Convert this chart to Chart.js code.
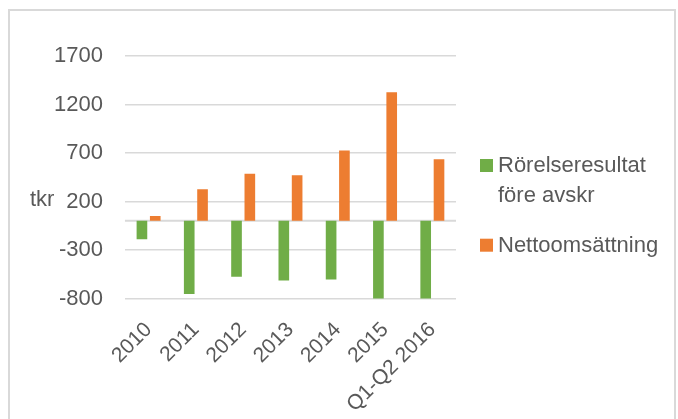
<!DOCTYPE html>
<html><head><meta charset="utf-8">
<script src="https://cdn.jsdelivr.net/npm/chart.js@4"></script>
<style>
html,body{margin:0;padding:0;background:#fff;overflow:hidden;width:678px;height:419px}
#wrap{position:absolute;left:0;top:0;width:678px;height:436px}
#frame{position:absolute;left:8px;top:9px;width:664px;height:460px;border:2px solid #d9d9d9;pointer-events:none;z-index:2}
</style></head><body>
<div id="wrap"><canvas id="c"></canvas></div>
<div id="frame"></div>
<script>
const categories = ['2010','2011','2012','2013','2014','2015','Q1-Q2 2016'];
const seriesNames = ['Rörelseresultat före avskr','Nettoomsättning'];
const rorelseresultat = [-190,-755,-575,-615,-605,-810,-810];
const nettoomsattning = [50,325,485,470,725,1325,635];
const yTicks = [-800,-300,200,700,1200,1700];
const yAxisTitle = 'tkr';

const FONT = '"Liberation Sans", Arial, sans-serif';
const TEXT = '#595959';
const GRID = '#d9d9d9';

function wrapText(ctx, text, maxW){
  const words = text.split(' '); const lines=[]; let cur='';
  words.forEach(w=>{
    const t = cur ? cur+' '+w : w;
    if (ctx.measureText(t).width > maxW && cur){ lines.push(cur); cur=w; } else cur=t;
  });
  if (cur) lines.push(cur);
  return lines;
}

const extras = {
  id:'extras',
  beforeDatasetsDraw(chart){
    const ctx = chart.ctx, a = chart.chartArea;
    const y = chart.scales.y.getPixelForValue(0);
    ctx.save(); ctx.strokeStyle = GRID; ctx.lineWidth = 2;
    ctx.beginPath(); ctx.moveTo(a.left, y); ctx.lineTo(a.right, y); ctx.stroke();
    ctx.restore();
  },
  afterDraw(chart){
    const ctx = chart.ctx, a = chart.chartArea;
    ctx.save();
    ctx.font = '22px ' + FONT;
    ctx.fillStyle = TEXT;
    ctx.textAlign = 'left'; ctx.textBaseline = 'middle';
    ctx.fillText(yAxisTitle, 30, chart.scales.y.getPixelForValue(200) - 2);
    ctx.textBaseline = 'alphabetic';
    const x0 = a.right + 24; let y = 172; const lh = 29.7;
    chart.data.datasets.forEach(ds=>{
      const lines = wrapText(ctx, ds.label, 170);
      ctx.fillStyle = ds.backgroundColor;
      ctx.fillRect(x0, y-13, 13, 13);
      ctx.fillStyle = TEXT;
      lines.forEach((l,j)=>ctx.fillText(l, x0+18, y + j*lh));
      y += lines.length*lh + 20.3;
    });
    ctx.restore();
  }
};

Chart.defaults.font.family = FONT;
Chart.defaults.font.size = 22;
Chart.defaults.color = TEXT;

new Chart(document.getElementById('c'), {
  type:'bar',
  data:{
    labels: categories,
    datasets:[
      {label: seriesNames[0], data: rorelseresultat, backgroundColor:'#70AD47', categoryPercentage:0.563, barPercentage:0.8},
      {label: seriesNames[1], data: nettoomsattning, backgroundColor:'#ED7D31', categoryPercentage:0.563, barPercentage:0.8}
    ]
  },
  options:{
    responsive:true, maintainAspectRatio:false, animation:false,
    layout:{padding:{left:32, top:56, right:222, bottom:0}},
    plugins:{legend:{display:false}, tooltip:{enabled:false}},
    scales:{
      x:{
        grid:{display:false, drawTicks:false}, border:{display:false},
        ticks:{maxRotation:45, minRotation:45, padding:19, autoSkip:false, font:{size:21}},
        afterFit(s){ s.paddingLeft = 0; s.paddingRight = 0; }
      },
      y:{
        min:-800, max:1700,
        afterBuildTicks(s){ s.ticks = yTicks.map(v=>({value:v})); },
        grid:{color:GRID, lineWidth:1.5, drawTicks:false}, border:{display:false},
        ticks:{padding:22, callback:(v)=>String(v)}
      }
    }
  },
  plugins:[extras]
});
</script>
</body></html>
